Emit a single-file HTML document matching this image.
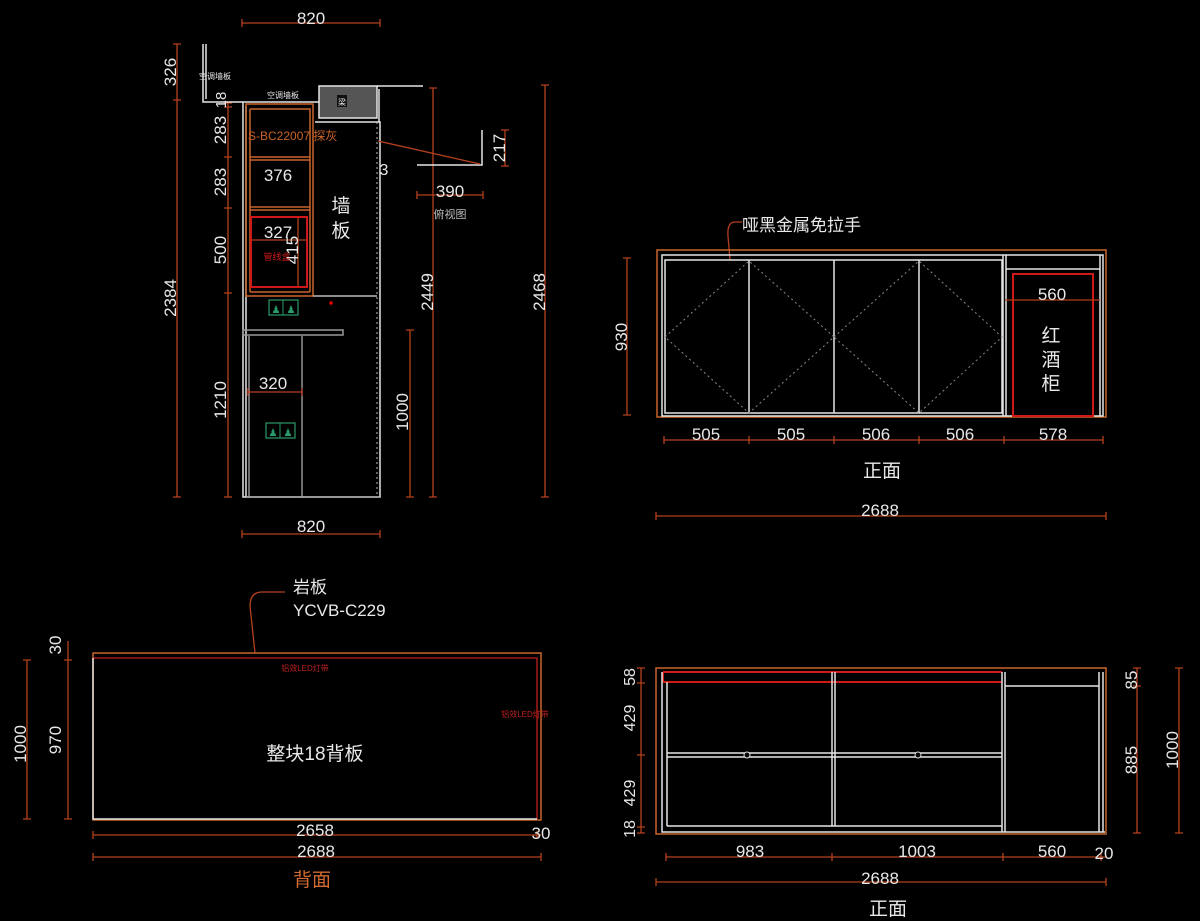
<!DOCTYPE html>
<html><head><meta charset="utf-8"><style>
html,body{margin:0;padding:0;background:#000;}
svg{display:block}
text{font-family:"Liberation Sans","Noto Sans CJK SC",sans-serif;fill:#e8e8e8;}
.d{stroke:#b5401c;stroke-width:1.3;fill:none}
.w{stroke:#e6e6e6;stroke-width:1.5;fill:none}
.o{stroke:#c8642a;stroke-width:1.5;fill:none}
.r{stroke:#d01818;stroke-width:2;fill:none}
.g{stroke:#888;stroke-width:1;fill:none;stroke-dasharray:2 3}
</style></head><body>
<svg width="1200" height="921" viewBox="0 0 1200 921" xmlns="http://www.w3.org/2000/svg">
<rect width="1200" height="921" fill="#000"/>

<!-- ===== TOP-LEFT side view ===== -->
<!-- dimension lines -->
<path class="d" d="M242 23H380M242 19v8M380 19v8"/>
<text x="311" y="24" font-size="17" text-anchor="middle">820</text>
<path class="d" d="M177 44V497M173 44h8M173 100h8M173 497h8"/>
<text transform="translate(176,72) rotate(-90)" font-size="17" text-anchor="middle">326</text>
<text transform="translate(176,298) rotate(-90)" font-size="17" text-anchor="middle">2384</text>
<path class="d" d="M228 103V497M224 103h8M224 107h8M224 157h8M224 208h8M224 293h8M224 497h8"/>
<text transform="translate(226,100) rotate(-90)" font-size="15" text-anchor="middle">18</text>
<text transform="translate(226,130) rotate(-90)" font-size="17" text-anchor="middle">283</text>
<text transform="translate(226,182) rotate(-90)" font-size="17" text-anchor="middle">283</text>
<text transform="translate(226,250) rotate(-90)" font-size="17" text-anchor="middle">500</text>
<text transform="translate(226,400) rotate(-90)" font-size="17" text-anchor="middle">1210</text>
<path class="d" d="M410 330V497M406 330h8M406 497h8"/>
<text transform="translate(408,412) rotate(-90)" font-size="17" text-anchor="middle">1000</text>
<path class="d" d="M433 88V497M429 88h8M429 497h8"/>
<text transform="translate(433,292) rotate(-90)" font-size="17" text-anchor="middle">2449</text>
<path class="d" d="M545 85V497M541 85h8M541 497h8"/>
<text transform="translate(545,292) rotate(-90)" font-size="17" text-anchor="middle">2468</text>
<path class="d" d="M242 534H380M242 530v8M380 530v8"/>
<text x="311" y="532" font-size="17" text-anchor="middle">820</text>

<!-- top air-con boards -->
<path class="w" d="M203 44V102H319M206 44V99"/>
<text x="215" y="79" font-size="8" text-anchor="middle">空调墙板</text>
<text x="283" y="98" font-size="8" text-anchor="middle">空调墙板</text>
<rect x="319" y="86" width="58" height="32" fill="#555" stroke="#e6e6e6" stroke-width="1.5"/>
<rect x="337" y="95" width="10" height="12" fill="#111"/>
<text x="342" y="105" font-size="8" text-anchor="middle">梁</text>
<path class="w" d="M377 86H423M379 89V122"/>
<!-- cabinet body -->
<path class="w" d="M243 102V497H380V122H315M246 106V497"/>
<path class="g" d="M377 122V497" style="stroke:#bbb"/>
<rect x="246" y="104" width="67" height="192" class="o"/>
<path class="o" d="M250 109H310V292M250 109V292M250 157H310M250 160H310M250 207H310M250 210H310M250 292H310"/>
<text x="248" y="140" font-size="12" fill="#c8642a" style="fill:#c8642a">S-BC22007 探灰</text>
<rect x="251" y="217" width="56" height="70" class="r"/>
<path class="d" d="M298 218V286M252 240H306"/>
<text x="278" y="181" font-size="17" text-anchor="middle">376</text>
<text x="278" y="238" font-size="17" text-anchor="middle">327</text>
<text transform="translate(298,250) rotate(-90)" font-size="17" text-anchor="middle">415</text>
<text x="277" y="260" font-size="9" style="fill:#d01818" text-anchor="middle">管线盒</text>
<path class="w" d="M313 296H377" style="stroke:#bbb"/>
<text x="341" y="212" font-size="19" text-anchor="middle">墙</text>
<text x="341" y="237" font-size="19" text-anchor="middle">板</text>
<text x="384" y="175" font-size="16" text-anchor="middle">3</text>
<circle cx="331" cy="303" r="1.8" fill="#e00"/>
<!-- outlet icons -->
<rect x="269" y="300" width="29" height="15" fill="none" stroke="#2a9a6a" stroke-width="1.2"/>
<path d="M283 300V315" stroke="#2a9a6a"/>
<text x="276" y="313" font-size="10" style="fill:#2a9a6a" text-anchor="middle">♟</text>
<text x="291" y="313" font-size="10" style="fill:#2a9a6a" text-anchor="middle">♟</text>
<rect x="266" y="423" width="29" height="15" fill="none" stroke="#2a9a6a" stroke-width="1.2"/>
<path d="M280 423V438" stroke="#2a9a6a"/>
<text x="273" y="436" font-size="10" style="fill:#2a9a6a" text-anchor="middle">♟</text>
<text x="288" y="436" font-size="10" style="fill:#2a9a6a" text-anchor="middle">♟</text>
<!-- counter + lower door -->
<rect x="243" y="330" width="100" height="5" fill="none" stroke="#999" stroke-width="1.5"/>
<path d="M249 336V497M302 336V497M246 497H380" stroke="#aaa" stroke-width="1.3" fill="none"/>
<path class="d" d="M248 392H302M248 388v8M302 388v8"/>
<text x="273" y="389" font-size="17" text-anchor="middle">320</text>
<!-- plan view -->
<path class="w" d="M417 165H482V130"/>
<path class="d" d="M378 141L480 164"/>
<path class="d" d="M505 130V166M501 130h8M501 166h8"/>
<text transform="translate(505,148) rotate(-90)" font-size="17" text-anchor="middle">217</text>
<path class="d" d="M417 195H483M417 191v8M483 191v8"/>
<text x="450" y="197" font-size="17" text-anchor="middle">390</text>
<text x="450" y="218" font-size="11" text-anchor="middle" style="fill:#bbb">俯视图</text>

<!-- ===== TOP-RIGHT front view ===== -->
<path d="M742 222H735Q727 222 728 236L730 260" class="d"/>
<text x="742" y="231" font-size="17">哑黑金属免拉手</text>
<rect x="657" y="250" width="449" height="167" class="o"/>
<path class="w" d="M662 255H1103V416H662ZM665 260H1002V413H665ZM749 260V413M834 260V413M919 260V413M1003 255V416M1006 255V416M1006 269H1100M1100 255V416"/>
<path class="g" d="M665 337L749 261L834 337L749 413L665 337Z M834 337L919 261L1002 337L919 413L834 337Z"/>
<rect x="1013" y="274" width="80" height="142" class="r"/>
<path class="d" d="M1005 300H1100"/>
<text x="1052" y="300" font-size="17" text-anchor="middle">560</text>
<text x="1051" y="342" font-size="19" text-anchor="middle">红</text>
<text x="1051" y="366" font-size="19" text-anchor="middle">酒</text>
<text x="1051" y="390" font-size="19" text-anchor="middle">柜</text>
<path class="d" d="M627 258V415M623 258h8M623 415h8"/>
<text transform="translate(627,337) rotate(-90)" font-size="17" text-anchor="middle">930</text>
<path class="d" d="M664 440H1103M664 436v8M749 436v8M834 436v8M919 436v8M1004 436v8M1103 436v8"/>
<text x="706" y="440" font-size="17" text-anchor="middle">505</text>
<text x="791" y="440" font-size="17" text-anchor="middle">505</text>
<text x="876" y="440" font-size="17" text-anchor="middle">506</text>
<text x="960" y="440" font-size="17" text-anchor="middle">506</text>
<text x="1053" y="440" font-size="17" text-anchor="middle">578</text>
<text x="882" y="477" font-size="19" text-anchor="middle">正面</text>
<path class="d" d="M656 516H1106M656 512v8M1106 512v8"/>
<text x="880" y="516" font-size="17" text-anchor="middle">2688</text>

<!-- ===== BOTTOM-LEFT back view ===== -->
<path d="M285 592H262Q250 592 250 606L255 653" class="d"/>
<text x="293" y="593" font-size="17">岩板</text>
<text x="293" y="616" font-size="17">YCVB-C229</text>
<rect x="93" y="653" width="448" height="167" class="o"/>
<path d="M94 658H537V819" stroke="#c02020" stroke-width="1.3" fill="none"/>
<path class="w" d="M93 658V819H537"/>
<text x="305" y="671" font-size="8" style="fill:#c02020" text-anchor="middle">铝效LED灯带</text>
<text x="525" y="717" font-size="8" style="fill:#c02020" text-anchor="middle">铝效LED灯带</text>
<text x="315" y="760" font-size="19" text-anchor="middle">整块18背板</text>
<path class="d" d="M27 660V819M23 660h8M23 819h8"/>
<text transform="translate(26,744) rotate(-90)" font-size="17" text-anchor="middle">1000</text>
<path class="d" d="M68 641V819M64 660h8M64 819h8"/>
<text transform="translate(61,740) rotate(-90)" font-size="17" text-anchor="middle">970</text>
<text transform="translate(61,645) rotate(-90)" font-size="17" text-anchor="middle">30</text>
<path class="d" d="M93 835H541M93 831v8M537 831v8M93 857H541M93 853v8M541 853v8"/>
<text x="315" y="836" font-size="17" text-anchor="middle">2658</text>
<text x="541" y="839" font-size="17" text-anchor="middle">30</text>
<text x="316" y="857" font-size="17" text-anchor="middle">2688</text>
<text x="312" y="886" font-size="19" text-anchor="middle" style="fill:#d06a30">背面</text>

<!-- ===== BOTTOM-RIGHT front view ===== -->
<rect x="656" y="668" width="450" height="166" class="o"/>
<path d="M663 672H1002M663 682H1002M663 672V682" stroke="#d01818" stroke-width="2" fill="none"/>
<path class="w" d="M662 672V832H1105M667 682V826M832 672V826M835 672V826M667 753H1002M667 757H1002M667 826H1002M1002 672V832M1005 672V832M1005 686H1099M1099 672V832M1103 672V832"/>
<circle cx="747" cy="755" r="3" fill="#000" stroke="#ddd"/>
<circle cx="918" cy="755" r="3" fill="#000" stroke="#ddd"/>
<path class="d" d="M641 668V833M637 668h8M637 683h8M637 755h8M637 827h8M637 833h8"/>
<text transform="translate(635,677) rotate(-90)" font-size="16" text-anchor="middle">58</text>
<text transform="translate(635,718) rotate(-90)" font-size="16" text-anchor="middle">429</text>
<text transform="translate(635,793) rotate(-90)" font-size="16" text-anchor="middle">429</text>
<text transform="translate(635,829) rotate(-90)" font-size="16" text-anchor="middle">18</text>
<path class="d" d="M1137 668V833M1133 668h8M1133 686h8M1133 833h8"/>
<text transform="translate(1137,680) rotate(-90)" font-size="17" text-anchor="middle">85</text>
<text transform="translate(1137,760) rotate(-90)" font-size="17" text-anchor="middle">885</text>
<path class="d" d="M1179 668V833M1175 668h8M1175 833h8"/>
<text transform="translate(1178,750) rotate(-90)" font-size="17" text-anchor="middle">1000</text>
<path class="d" d="M666 857H1106M666 853v8M832 853v8M1003 853v8M1101 853v8"/>
<text x="750" y="857" font-size="17" text-anchor="middle">983</text>
<text x="917" y="857" font-size="17" text-anchor="middle">1003</text>
<text x="1052" y="857" font-size="17" text-anchor="middle">560</text>
<text x="1104" y="859" font-size="17" text-anchor="middle">20</text>
<path class="d" d="M656 882H1106M656 878v8M1106 878v8"/>
<text x="880" y="884" font-size="17" text-anchor="middle">2688</text>
<text x="888" y="915" font-size="19" text-anchor="middle">正面</text>
</svg>
</body></html>
